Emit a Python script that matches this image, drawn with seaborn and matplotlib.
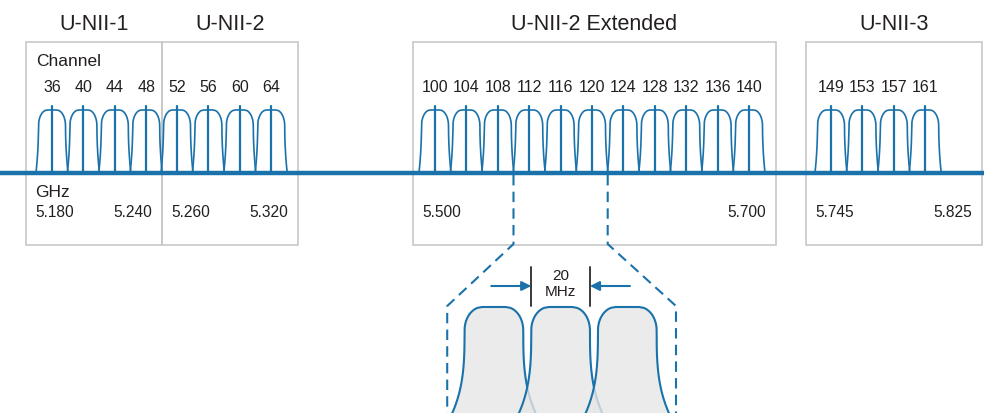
import numpy as np
import pandas as pd
import matplotlib.pyplot as plt
import seaborn as sns

# Chart data
bands = ["U-NII-1", "U-NII-2", "U-NII-2 Extended", "U-NII-3"]
unii1_channels = [36, 40, 44, 48]
unii2_channels = [52, 56, 60, 64]
unii2e_channels = [100, 104, 108, 112, 116, 120, 124, 128, 132, 136, 140]
unii3_channels = [149, 153, 157, 161]
band_channels = [unii1_channels, unii2_channels, unii2e_channels, unii3_channels]
band_ghz = [("5.180", "5.240"), ("5.260", "5.320"), ("5.500", "5.700"), ("5.745", "5.825")]
zoom_channels = [112, 116, 120]
width_label = "20\nMHz"

# Layout (pixel space)
box_x = [(26, 162), (162, 298), (413, 776), (806, 982)]
first_x = [52, 177, 435, 831]
step = 31.4
box_top, box_bot = 43, 246
base_y = 174
bump_top, bump_h = 111, 63
zoom_top, zoom_h = 308, 130
zoom_step = 66.7

blue = "#1a72aa"
gray_box = "#c8c8c8"
txt = "#231f20"

sns.set_theme(style="white")
plt.rcParams['font.family'] = ['Liberation Sans', 'DejaVu Sans']


def outline(cx, top, H, hs, f, a, t0, b, p):
    # rounded top corner, then sides flaring out toward the base
    t1 = np.linspace(0, t0, 30)
    hw1 = f + (a - f) * np.sqrt(np.clip(1 - (1 - t1 / t0) ** 2, 0, 1))
    t2 = np.linspace(t0, 1, 60)[1:]
    hw2 = a + (b - a) * ((t2 - t0) / (1 - t0)) ** p
    t = np.concatenate([t1, t2])
    hw = np.concatenate([hw1, hw2]) * hs
    y = top + t * H
    xs = np.concatenate([(cx - hw)[::-1], cx + hw])
    ys = np.concatenate([y[::-1], y])
    return xs, ys


# channel x positions
chan_x = {}
for chans, x0 in zip(band_channels, first_x):
    for i, c in enumerate(chans):
        chan_x[c] = x0 + i * step

fig = plt.figure(figsize=(9.84, 4.14), dpi=100)
ax = fig.add_axes([0, 0, 1, 1])

# small channel bumps via seaborn
rows = []
for c, cx in chan_x.items():
    xs, ys = outline(cx, bump_top, bump_h, step / 2, 0.3, 0.86, 0.25, 1.02, 2)
    for k, (x, y) in enumerate(zip(xs, ys)):
        rows.append({"channel": c, "order": k, "x": x, "y": y})
df = pd.DataFrame(rows)
sns.lineplot(data=df, x="x", y="y", units="channel", estimator=None, sort=False,
             color=blue, lw=1.2, legend=False, ax=ax, zorder=3)
ax.set_xlim(0, 984)
ax.set_ylim(414, 0)
ax.axis("off")

# boxes and titles
for name, (x0, x1) in zip(bands, box_x):
    ax.add_patch(plt.Rectangle((x0, box_top), x1 - x0, box_bot - box_top,
                               fill=False, ec=gray_box, lw=1.2, zorder=1))
    ax.text((x0 + x1) / 2, 25, name, ha="center", va="center", fontsize=15.5, color=txt)

for c, cx in chan_x.items():
    ax.plot([cx, cx], [bump_top - 4, base_y], color=blue, lw=1.6, zorder=3)

# baseline
ax.plot([0, 984], [base_y, base_y], color=blue, lw=3.2, zorder=4, solid_capstyle="butt")

# labels
for chans, (x0, x1), (lo, hi) in zip(band_channels, box_x, band_ghz):
    for c in chans:
        ax.text(chan_x[c], 87, str(c), ha="center", va="center", fontsize=11.5, color=txt)
    ax.text(x0 + 9, 213, lo, ha="left", va="center", fontsize=11.2, color=txt)
    ax.text(x1 - 10, 213, hi, ha="right", va="center", fontsize=11.2, color=txt)
ax.text(36, 62, "Channel", ha="left", va="center", fontsize=12.5, color=txt)
ax.text(35, 193, "GHz", ha="left", va="center", fontsize=12.5, color=txt)

# zoomed-in view
mid = chan_x[zoom_channels[1]]
zoom_x = [mid + (i - 1) * zoom_step for i in range(len(zoom_channels))]
for i, zx in enumerate(zoom_x):
    xs, ys = outline(zx, zoom_top, zoom_h, zoom_step / 2, 0.35, 0.88, 0.18, 1.67, 3)
    ax.fill(xs, ys, color="#e6e6e6", alpha=0.8, lw=0, zorder=5 + 2 * i)
    ax.plot(xs, ys, color=blue, lw=1.5, zorder=6 + 2 * i)

left_top = (chan_x[108] + chan_x[112]) / 2
right_top = (chan_x[120] + chan_x[124]) / 2
lx = zoom_x[0] - 0.7 * zoom_step
rx = zoom_x[-1] + 0.73 * zoom_step
for top_x, bot_x in [(left_top, lx), (right_top, rx)]:
    ax.plot([top_x, top_x, bot_x, bot_x], [base_y + 2, 245, 307, 414], color=blue,
            lw=1.5, ls=(0, (5, 3)), zorder=2)

hw = 0.88 * zoom_step / 2
for bx in [mid - hw, mid + hw]:
    ax.plot([bx, bx], [268, 307], color="#3a3a3a", lw=1.4, zorder=12)
ax.annotate("", xy=(mid - hw, 287), xytext=(mid - hw - 40, 287),
            arrowprops=dict(arrowstyle="-|>", color=blue, lw=1.5, mutation_scale=14,
                            shrinkA=0, shrinkB=0), zorder=12)
ax.annotate("", xy=(mid + hw, 287), xytext=(mid + hw + 40, 287),
            arrowprops=dict(arrowstyle="-|>", color=blue, lw=1.5, mutation_scale=14,
                            shrinkA=0, shrinkB=0), zorder=12)
ax.text(mid, 284, width_label, ha="center", va="center", fontsize=11, color=txt,
        linespacing=1.25, zorder=12)

fig.savefig("out.png", dpi=100)
